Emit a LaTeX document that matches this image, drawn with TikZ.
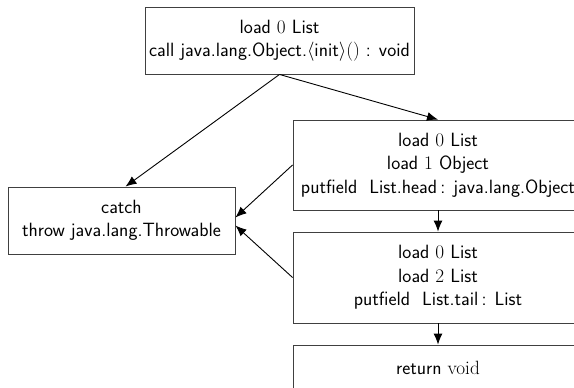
\RequirePackage{fix-cm}
\documentclass[tikz,border=0pt]{standalone}
\usetikzlibrary{arrows.meta}
\begin{document}
\begin{tikzpicture}[x=1pt,y=-1pt,
  box/.style={draw=black!75, line width=0.9pt, align=center, inner sep=0pt,
    font=\sffamily\fontsize{19.2}{23.5}\selectfont},
  edge/.style={line width=0.9pt, -{Latex[length=11pt,width=9pt]}}]
\clip (0,0) rectangle (574,388);
\node[box, minimum width=269pt, minimum height=67pt] (top) at (279.5,40.5)
  {load $0$ List\\call java.lang.Object.$\langle$init$\rangle()$ : void};
\node[box, minimum width=227pt, minimum height=67pt] (catch) at (121.5,220.5)
  {catch\\throw java.lang.Throwable};
\node[box, minimum width=290pt, minimum height=90pt] (b1) at (438,165)
  {load $0$ List\\load $1$ Object\hspace*{34pt}\\putfield\ \ List.head\,: java.lang.Object};
\node[box, minimum width=290pt, minimum height=91pt] (b2) at (438,277.5)
  {load $0$ List\\load $2$ List\\putfield\ \ List.tail\,: List};
\node[box, minimum width=290pt, minimum height=46pt] (b3) at (438,368)
  {return \textrm{void}};
\draw[edge] (top.south) -- ([xshift=4pt]catch.north);
\draw[edge] (top.south) -- (b1.north);
\draw[edge] (b1.west) -- ([yshift=3pt]catch.east);
\draw[edge] (b2.west) -- ([yshift=-5pt]catch.east);
\draw[edge] (b1.south) -- (b2.north);
\draw[edge] (b2.south) -- (b3.north);
\end{tikzpicture}
\end{document}
